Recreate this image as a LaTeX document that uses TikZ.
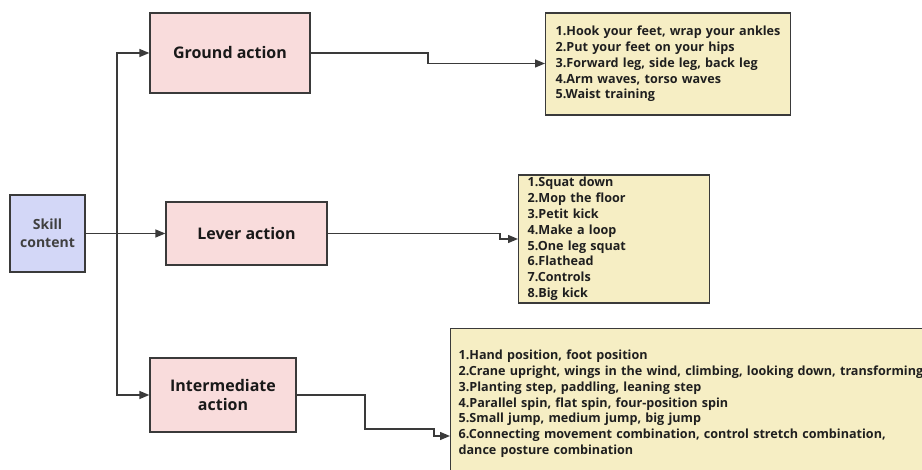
\documentclass[tikz,border=0pt]{standalone}
\usepackage{fontspec}
\setmainfont{Open Sans}
\usetikzlibrary{arrows.meta}
\definecolor{skillfill}{HTML}{D3D7F7}
\definecolor{pinkfill}{HTML}{F9DCDC}
\definecolor{yelfill}{HTML}{F6EEC4}
\definecolor{edge}{HTML}{3A3A3A}
\tikzset{
  box/.style={draw=edge, line width=1.3pt, rectangle, inner sep=0pt, font=\bfseries\fontsize{16}{19}\selectfont, text=black!90, align=center},
  skillbox/.style={box, fill=skillfill, font=\bfseries\fontsize{14}{17.5}\selectfont, text=black!75},
  actbox/.style={box, fill=pinkfill},
  listbox/.style={draw=edge, line width=1.3pt, rectangle, fill=yelfill, align=left, inner ysep=0pt, font=\bfseries\fontsize{12.6}{15.8}\selectfont, text=black!88},
  conn/.style={draw=edge, line width=1.3pt, -{Triangle[length=10pt,width=8pt]}},
}
\begin{document}
\begin{tikzpicture}[x=1pt,y=-1pt]
\useasboundingbox (0,0) rectangle (922,470);
\clip (0,0) rectangle (922,470);
\fill[white] (0,0) rectangle (922,470);
\node[skillbox, minimum width=75pt, minimum height=77pt] (skill) at (47.5,233.5) {Skill\\content};
\node[actbox, minimum width=160pt, minimum height=80pt] (ground) at (230,53) {Ground action};
\node[actbox, minimum width=161pt, minimum height=63pt] (lever) at (246.5,233.5) {Lever action};
\node[actbox, minimum width=146pt, minimum height=74pt] (inter) at (223,395) {Intermediate\\action};
\node[listbox, anchor=west, minimum width=245pt, minimum height=102pt, text width=225pt, inner xsep=10pt] (l1) at (545,64) {1.Hook your feet, wrap your ankles\\2.Put your feet on your hips\\3.Forward leg, side leg, back leg\\4.Arm waves, torso waves\\5.Waist training};
\node[listbox, anchor=west, minimum width=191pt, minimum height=128pt, text width=173pt, inner xsep=9pt] (l2) at (518,239) {1.Squat down\\2.Mop the floor\\3.Petit kick\\4.Make a loop\\5.One leg squat\\6.Flathead\\7.Controls\\8.Big kick};
\node[listbox, anchor=north west, minimum width=500pt, minimum height=150pt, text width=484pt, inner xsep=8pt, inner ysep=0pt] (l3) at (450,328) {\rule{0pt}{0pt}\\[-6pt]1.Hand position, foot position\\2.Crane upright, wings in the wind, climbing, looking down, transforming\\3.Planting step, paddling, leaning step\\4.Parallel spin, flat spin, four-position spin\\5.Small jump, medium jump, big jump\\6.Connecting movement combination, control stretch combination,\\dance posture combination};
\coordinate (trunk) at (117,233.5);
\draw[conn] (skill.east) -- (lever.west);
\draw[conn] (trunk) |- (ground.west);
\draw[conn] (trunk) |- (inter.west);
\draw[conn] (ground.east) -- (428,53) -- (428,63.5) -- (l1.west |- 0,63.5);
\draw[conn] (lever.east) -- (500,233.5) -- (500,239) -- (l2.west);
\draw[conn] (inter.east) -- (365,395) -- (365,429) -- (434,429) -- (434,436) -- (l3.west |- 0,436);
\end{tikzpicture}
\end{document}
